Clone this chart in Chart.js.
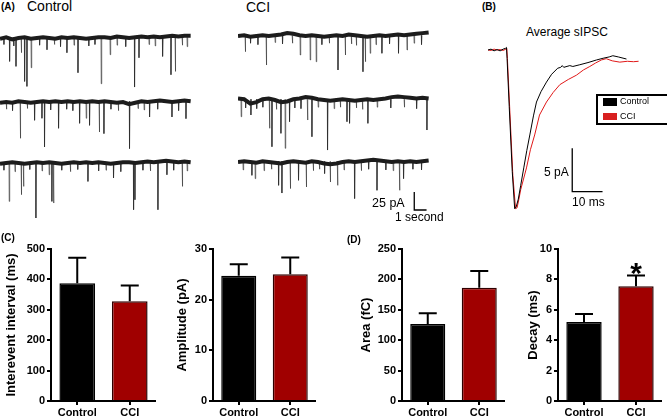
<!DOCTYPE html>
<html>
<head>
<meta charset="utf-8">
<script src="https://cdn.jsdelivr.net/npm/chart.js@4.4.0/dist/chart.umd.min.js"></script>
<style>
  body { margin: 0; background: #fff; }
  #fig { position: relative; width: 667px; height: 419px; overflow: hidden; background: #fff;
         font-family: Arial, "Liberation Sans", sans-serif; color: #000; }
  #fig canvas { position: absolute; }
  .lbl { position: absolute; white-space: nowrap; line-height: 1; }
  .b { font-weight: bold; }
</style>
</head>
<body>
<div id="fig">
  <canvas id="ctrl1" width="192" height="66" style="left:0;top:28px"></canvas>
  <canvas id="ctrl2" width="192" height="66" style="left:0;top:92px"></canvas>
  <canvas id="ctrl3" width="192" height="66" style="left:0;top:153px"></canvas>
  <canvas id="cci1" width="192" height="66" style="left:238px;top:26px"></canvas>
  <canvas id="cci2" width="192" height="66" style="left:238px;top:90px"></canvas>
  <canvas id="cci3" width="192" height="66" style="left:238px;top:152px"></canvas>
  <canvas id="avg" width="187" height="175" style="left:480px;top:40px"></canvas>
  <canvas id="barInterval" width="156" height="180" style="left:0;top:239px"></canvas>
  <canvas id="barAmp" width="146" height="180" style="left:170px;top:239px"></canvas>
  <canvas id="barArea" width="150" height="180" style="left:355px;top:239px"></canvas>
  <canvas id="barDecay" width="142" height="180" style="left:520px;top:239px"></canvas>

  <div class="lbl b" style="left:1px;top:2px;font-size:10px">(A)</div>
  <div class="lbl" style="left:27px;top:-1px;font-size:14px">Control</div>
  <div class="lbl" style="left:246px;top:0px;font-size:14px">CCI</div>
  <div class="lbl" style="left:372px;top:197px;font-size:12.5px">25 pA</div>
  <div class="lbl" style="left:395px;top:211px;font-size:12px">1 second</div>

  <div class="lbl b" style="left:482px;top:2px;font-size:10px">(B)</div>
  <div class="lbl" style="left:526px;top:26px;font-size:12px">Average sIPSC</div>
  <div class="lbl" style="left:544px;top:166px;font-size:12px">5 pA</div>
  <div class="lbl" style="left:572px;top:196px;font-size:12px">10 ms</div>
  <div style="position:absolute;left:596px;top:94px;width:90px;height:27px;border:2px solid #000"></div>
  <div style="position:absolute;left:603px;top:98px;width:14px;height:8px;background:#000"></div>
  <div style="position:absolute;left:603px;top:113px;width:14px;height:7px;background:#d82020"></div>
  <div class="lbl" style="left:620px;top:97px;font-size:9px">Control</div>
  <div class="lbl" style="left:620px;top:111.5px;font-size:9px">CCI</div>

  <div class="lbl b" style="left:1px;top:233px;font-size:10px">(C)</div>
  <div class="lbl b" style="left:347px;top:235px;font-size:10px">(D)</div>
</div>
<script>
Chart.defaults.font.family = 'Arial, "Liberation Sans", sans-serif';
Chart.defaults.color = '#000';

// ---- (A) raw traces: seconds / pA ----
const traceTimes = [0, 0.5, 1, 1.5, 2, 2.5, 3, 3.5, 4, 4.5, 5, 5.5, 6, 6.5, 7, 7.5,
                    8, 8.5, 9, 9.5, 10, 10.5, 11, 11.5, 12, 12.5, 13, 13.5, 14, 14.5, 15, 15.5];

const ctrl1Base = [-1, 1, -2, 0, 1, -1, 0, 1, 0, -1, 1, 0, 1, 0, -1, 0, 1, 1, 0, 2, 1, 0, 1, 2, 1, 2, 1, 2, 3, 2, 3, 3];
const ctrl2Base = [-1, 0, -1, 1, 0, -1, 0, 1, 0, 1, 0, 1, 0, 1, 0, 1, 0, 1, 0, -1, 0, -3, -1, 1, 0, 1, 2, 1, 0, 1, 2, 1];
const ctrl3Base = [-1, 0, 1, 0, -1, 0, 1, 0, 1, 0, -1, 0, 1, 0, 1, 0, 1, 0, -1, 0, 1, 1, 0, 1, 2, 1, 2, 3, 2, 1, 2, 1];
const cci1Base = [0, 1, -1, 0, 1, 0, 1, 2, 4, 3, 1, 0, 1, 0, -1, 0, 1, 0, 2, 1, 0, -1, 0, 1, 0, 1, 2, 1, 2, 3, 4, 5];
const cci2Base = [2, 1, -5, -3, 1, 2, 0, -3, -2, 1, 2, 4, 3, 1, 0, -1, 0, 1, 0, -1, 0, 1, 0, 1, 2, 4, 5, 4, 3, 2, 3, 2];
const cci3Base = [0, 1, 0, -1, 1, 0, -1, -2, 0, 1, 0, -1, 1, 0, -2, -3, -2, 0, 1, 0, 1, 2, 3, 2, 1, 0, 1, 0, 1, 0, 1, 2];

// events: [time (s), peak (pA)]
const ctrl1Events = [[0.3,-9],[0.76,-32.5],[1.1,-11],[1.28,-39.4],[1.71,-20.4],[1.98,-60.3],[2.17,-67.2],[2.52,-41.3],
  [3.2,-10],[3.8,-16.3],[4.4,-9],[4.9,-12],[5.42,-20.4],[6.0,-10],[6.32,-48.2],[7.2,-11],[7.7,-9],[8.21,-63.5],
  [8.94,-23.2],[9.5,-10],[10.2,-12],[10.92,-68.1],[11.28,-27.4],[12.1,-9],[12.6,-11],[13.2,-25.6],[13.88,-51.0],
  [14.23,-46.4],[14.8,-10],[15.2,-12]];
const ctrl2Events = [[0.5,-10],[1.0,-12],[1.63,-50.4],[2.2,-9],[2.79,-25.4],[3.39,-22.6],[3.6,-62.5],[4.1,-11],
  [4.74,-36.5],[5.4,-10],[5.9,-12],[6.45,-29.6],[6.99,-22.6],[7.26,-32.4],[8.05,-41.7],[8.43,-43.9],[9.0,-10],
  [9.6,-12],[10.51,-64.7],[11.2,-9],[11.7,-11],[12.14,-20.8],[12.8,-10],[13.96,-20.8],[14.5,-12],[15.1,-23.1]];
const ctrl3Events = [[0.3,-10],[0.73,-53.3],[1.2,-12],[1.71,-44.0],[1.89,-32.5],[2.4,-9],[2.9,-76.4],[3.4,-11],
  [3.98,-16.3],[4.2,-53.3],[4.33,-55.6],[5.0,-10],[5.7,-12],[6.3,-9],[7.13,-25.6],[8.0,-11],[8.6,-10],[9.21,-20.8],
  [9.8,-12],[10.84,-64.9],[10.95,-51.0],[11.6,-10],[12.2,-11],[12.82,-64.9],[13.55,-16.3],[14.1,-10],[14.8,-32.5],[15.2,-11]];
const cci1Events = [[0.57,-21.8],[1.0,-10],[1.6,-12],[2.28,-40.3],[3.0,-9],[3.6,-11],[4.4,-10],[5.04,-26.4],
  [5.85,-33.3],[6.34,-35.7],[6.8,-12],[7.4,-10],[8.11,-47.2],[8.7,-26.4],[9.2,-11],[9.6,-13],[10.14,-49.6],
  [10.33,-35.7],[10.73,-24.0],[11.2,-12],[11.68,-24.0],[12.3,-11],[13.03,-24.0],[13.72,-19.4],[14.3,-10],[14.9,-12]];
const cci2Events = [[0.24,-23.2],[0.6,-11],[1.03,-20.8],[1.5,-12],[2.0,-10],[2.54,-39.3],[2.74,-64.9],[3.1,-13],
  [3.47,-46.3],[3.82,-67.1],[4.17,-30.1],[4.6,-11],[5.1,-12],[5.63,-27.8],[5.99,-51.0],[6.5,-10],[7.26,-69.5],
  [7.8,-12],[8.3,-10],[8.84,-30.1],[9.05,-32.4],[9.6,-11],[10.1,-13],[10.54,-32.4],[11.3,-10],[12.4,-11],
  [13.5,-10],[14.5,-12],[15.34,-41.7]];
const cci3Events = [[0.4,-11],[1.11,-18.5],[1.38,-23.1],[2.1,-12],[2.7,-10],[3.28,-32.4],[3.55,-43.1],[4.23,-36.9],
  [4.9,-25.4],[5.53,-34.7],[6.1,-12],[6.6,-10],[7.02,-16.1],[7.48,-27.8],[8.07,-32.4],[8.6,-11],[9.46,-50.8],
  [10.0,-12],[10.6,-10],[11.28,-39.3],[12.0,-11],[12.6,-12],[13.11,-39.3],[13.44,-23.1],[14.2,-10],[14.9,-11]];

// ---- (B) average sIPSC: ms / pA ----
const ctrlAvg = [[0,0],[1,0.1],[2,-0.1],[3,0.05],[4,-0.1],[5,0.1],[5.8,0.2],[6.1,0.3],[6.3,-1],[7,-6.5],[8,-14],
  [8.8,-18.3],[9.3,-18.1],[10,-17.2],[10.8,-15.6],[11.8,-13.6],[12.8,-11.6],[13.8,-9.8],[15,-7.6],[16,-6.0],
  [17.5,-4.8],[19.3,-3.7],[21,-2.8],[23,-2.1],[24,-2.0],[24.5,-1.8],[25,-2.0],[27,-1.8],[28,-1.9],[30.3,-1.7],
  [33,-1.45],[35.8,-1.15],[38,-0.95],[40,-0.8],[41.2,-0.66],[43,-0.8],[45.7,-1.04]];
const cciAvg = [[0,0],[1,-0.05],[2,0.1],[3,0],[4,0.05],[5,-0.05],[5.9,0.1],[6.2,0.2],[6.4,-1],[7.2,-7],[8.2,-14.5],
  [9.1,-18.3],[9.6,-18.2],[10.2,-17.2],[10.8,-16.1],[12.7,-13.6],[14,-11.5],[15.4,-9.8],[17,-7.5],[19.3,-6.0],
  [21.5,-4.9],[23.7,-4.0],[26.5,-3.4],[29.2,-2.9],[31.5,-2.3],[33.6,-1.9],[35.5,-1.5],[37.4,-1.15],[39,-1.0],
  [41,-1.25],[43.5,-1.4],[46,-1.3],[48,-1.35],[49.7,-1.3]];

// ---- (C), (D) summary bars ----
const groups = ['Control', 'CCI'];
const intervalMean = [387, 328];
const intervalSem = [84, 52];
const ampMean = [24.7, 25.0];
const ampSem = [2.3, 3.3];
const areaMean = [126.6, 186.1];
const areaSem = [17.7, 27.6];
const decayMean = [5.19, 7.55];
const decaySem = [0.53, 0.7];
const decayMarks = ['', '*'];

const PX_PER_S = 12.3, PA_PER_PX = 25 / 18;

const scaleBar = {
  id: 'scaleBar',
  afterDraw(chart, args, o) {
    if (!o || o.x === undefined) return;
    const xs = chart.scales.x, ys = chart.scales.y, ctx = chart.ctx;
    const x0 = xs.getPixelForValue(o.x), y0 = ys.getPixelForValue(o.y);
    const x1 = xs.getPixelForValue(o.x + o.dx), y1 = ys.getPixelForValue(o.y + o.dy);
    ctx.save();
    ctx.strokeStyle = '#000';
    ctx.lineWidth = 1.3;
    ctx.beginPath();
    ctx.moveTo(x0, y1); ctx.lineTo(x0, y0); ctx.lineTo(x1, y0);
    ctx.stroke();
    ctx.restore();
  }
};

function traceChart(id, base, events, bar) {
  const band = traceTimes.map((t, i) => ({x: t, y: base[i]}));
  const spikes = [];
  events.forEach(([t, a]) => {
    spikes.push({x: t, y: 1}, {x: t + 0.02, y: a}, {x: t + 0.06, y: 1}, {x: t + 0.07, y: null});
  });
  return new Chart(document.getElementById(id), {
    type: 'line',
    data: {datasets: [
      {data: band, borderColor: '#1c1c1c', borderWidth: 4, pointRadius: 0, tension: 0},
      {data: spikes, borderColor: 'rgba(40,40,40,0.6)', borderWidth: 1, pointRadius: 0, tension: 0}
    ]},
    options: {
      responsive: false, animation: false, devicePixelRatio: 1,
      layout: {padding: 0},
      plugins: {legend: {display: false}, tooltip: {enabled: false}, scaleBar: bar || {}},
      scales: {
        x: {type: 'linear', display: false, min: 0, max: 192 / PX_PER_S},
        y: {display: false, min: -56 * PA_PER_PX, max: 10 * PA_PER_PX}
      }
    },
    plugins: [scaleBar]
  });
}

traceChart('ctrl1', ctrl1Base, ctrl1Events);
traceChart('ctrl2', ctrl2Base, ctrl2Events);
traceChart('ctrl3', ctrl3Base, ctrl3Events);
traceChart('cci1', cci1Base, cci1Events);
traceChart('cci2', cci2Base, cci2Events);
traceChart('cci3', cci3Base, cci3Events, {x: 14.33, y: -66.7, dx: 1, dy: 25});

// average trace: 3.03 px per ms, 8.67 px per pA, time zero at x=488
new Chart(document.getElementById('avg'), {
  type: 'line',
  data: {datasets: [
    {data: ctrlAvg.map(p => ({x: p[0], y: p[1]})), borderColor: '#000', borderWidth: 1, pointRadius: 0, tension: 0},
    {data: cciAvg.map(p => ({x: p[0], y: p[1]})), borderColor: '#e01818', borderWidth: 1, pointRadius: 0, tension: 0}
  ]},
  options: {
    responsive: false, animation: false, devicePixelRatio: 1,
    layout: {padding: 0},
    plugins: {legend: {display: false}, tooltip: {enabled: false}, scaleBar: {x: 27.8, y: -16.34, dx: 10, dy: 5}},
    scales: {
      x: {type: 'linear', display: false, min: -8 / 3.03, max: 179 / 3.03},
      y: {display: false, min: -165 / 8.67, max: 10 / 8.67}
    }
  },
  plugins: [scaleBar]
});

const errorBars = {
  id: 'errorBars',
  afterDatasetsDraw(chart) {
    const ctx = chart.ctx, ys = chart.scales.y;
    chart.data.datasets.forEach((ds, di) => {
      chart.getDatasetMeta(di).data.forEach((bar, i) => {
        const top = ys.getPixelForValue(ds.data[i] + ds.sem[i]);
        ctx.save();
        ctx.strokeStyle = '#000';
        ctx.lineWidth = 2;
        ctx.beginPath();
        ctx.moveTo(bar.x, bar.y); ctx.lineTo(bar.x, top);
        ctx.moveTo(bar.x - 9, top); ctx.lineTo(bar.x + 9, top);
        ctx.stroke();
        if (ds.marks && ds.marks[i]) {
          ctx.fillStyle = '#000';
          ctx.font = 'bold 30px Arial, "Liberation Sans", sans-serif';
          ctx.textAlign = 'center';
          ctx.textBaseline = 'alphabetic';
          ctx.fillText(ds.marks[i], bar.x, top + 7);
        }
        ctx.restore();
      });
    });
  }
};

function barChart(id, means, sems, yMax, step, title, axisW, titlePad, marks) {
  const tickFont = {weight: 'bold', size: 11};
  return new Chart(document.getElementById(id), {
    type: 'bar',
    data: {labels: groups, datasets: [{
      data: means, sem: sems, marks: marks,
      backgroundColor: ['#000', '#a00000'], borderColor: ['#000', '#2e0000'], borderWidth: 1.5,
      barPercentage: 0.68, categoryPercentage: 1
    }]},
    options: {
      responsive: false, animation: false, devicePixelRatio: 1,
      layout: {padding: {top: 10, right: 0, bottom: 0, left: 0}},
      plugins: {legend: {display: false}, tooltip: {enabled: false}},
      scales: {
        x: {
          grid: {drawOnChartArea: false, offset: false, tickLength: 4, color: '#000', lineWidth: 2},
          border: {color: '#000', width: 2},
          ticks: {font: tickFont, padding: 1, color: '#000'},
          afterFit: s => { s.height = 18; }
        },
        y: {
          min: 0, max: yMax,
          grid: {drawOnChartArea: false, tickLength: 4, color: '#000', lineWidth: 2},
          border: {color: '#000', width: 2},
          ticks: {stepSize: step, font: tickFont, padding: 2, color: '#000'},
          title: {display: true, text: title, color: '#000', font: {weight: 'bold', size: 13}, padding: {top: titlePad, bottom: 0}},
          afterFit: s => { s.width = axisW; }
        }
      }
    },
    plugins: [errorBars]
  });
}

barChart('barInterval', intervalMean, intervalSem, 500, 100, 'Interevent interval (ms)', 51, 4);
barChart('barAmp', ampMean, ampSem, 30, 10, 'Amplitude (pA)', 43, 5);
barChart('barArea', areaMean, areaSem, 250, 50, 'Area (fC)', 47, 4);
barChart('barDecay', decayMean, decaySem, 10, 2, 'Decay (ms)', 38, 6, decayMarks);
</script>
</body>
</html>
